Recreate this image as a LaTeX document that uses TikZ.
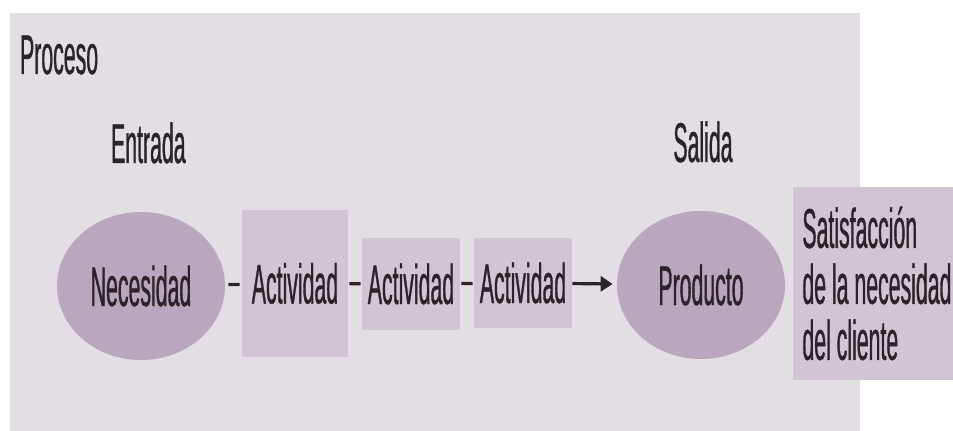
\documentclass[tikz,border=0pt]{standalone}
\usepackage{fontspec}
\setmainfont[FakeStretch=0.38,FakeBold=0.6]{Liberation Sans}
\usetikzlibrary{shapes.geometric,arrows.meta}
\definecolor{colFondo}{HTML}{E3DDE4}
\definecolor{colCaja}{HTML}{D1C5D3}
\definecolor{colOvalo}{HTML}{B9A7BD}
\definecolor{colTinta}{HTML}{2B2329}

\begin{document}
\begin{tikzpicture}[x=0.5pt,y=-0.5pt,
    every node/.style={text=colTinta,font=\fontsize{28}{28}\selectfont},
    ovalo/.style={ellipse,fill=colOvalo,inner sep=0pt,minimum width=84pt,minimum height=74pt},
    actividad/.style={rectangle,fill=colCaja,inner sep=0pt},
    guion/.style={draw=colTinta,line width=1.6pt}]

    \useasboundingbox (0,0) rectangle (953,431);
    \fill[colFondo] (10,13) rectangle (860,431);

    \node[anchor=base west] (proceso) at (13,74) {Proceso};
    \node[anchor=base west] (entrada) at (104,163) {Entrada};
    \node[anchor=base] (salida) at (703,162) {Salida};

    \node[ovalo] (necesidad) at (141,286) {Necesidad};
    \node[actividad,minimum width=53pt,minimum height=73.5pt] (act1) at (295,283.5) {Actividad};
    \node[actividad,minimum width=49pt,minimum height=46pt] (act2) at (411,284) {Actividad};
    \node[actividad,minimum width=49pt,minimum height=45pt] (act3) at (523,283) {Actividad};
    \node[ovalo] (producto) at (701,285) {Producto};
    \node[actividad,anchor=west,minimum width=80pt,minimum height=96.5pt] (satisf) at (793,283.5) {};
    \node[anchor=west,align=left,inner sep=0pt] (satisfTxt) at ([xshift=4.5pt]satisf.west)
        {Satisfacción\\de la necesidad\\del cliente};

    % connectors
    \draw[guion,shorten <=1.5pt,shorten >=1pt] (necesidad) -- (act1);
    \draw[guion,shorten <=0.5pt,shorten >=0.5pt] (act1) -- (act2);
    \draw[guion,shorten <=0.5pt,shorten >=0.5pt] (act2) -- (act3);
    \draw[guion,-{Triangle[length=6pt,width=7.5pt]},shorten >=2pt] (act3) -- (producto);

\end{tikzpicture}
\end{document}
